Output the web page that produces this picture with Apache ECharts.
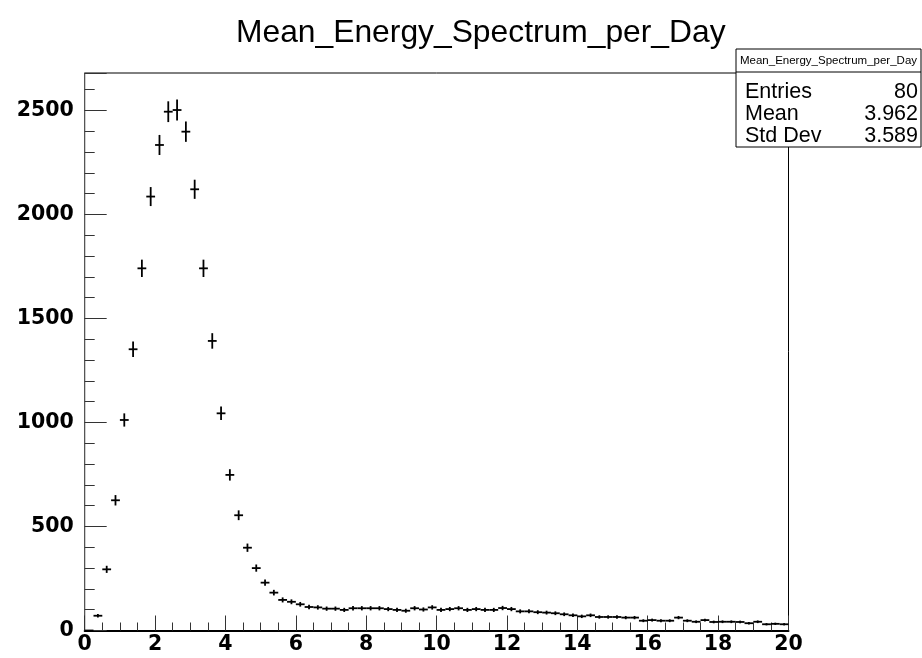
<!DOCTYPE html>
<html>
<head>
<meta charset="utf-8">
<script src="https://cdn.jsdelivr.net/npm/echarts@6/dist/echarts.min.js"></script>
<style>
  html, body { margin: 0; padding: 0; background: #fff; }
  #chart { width: 922px; height: 658px; }
</style>
</head>
<body>
<div id="chart"></div>
<script>
// histogram: 80 bins of 0.25 from 0 to 20
const binStart = 0
const binWidth = 0.25
const counts = [
  0, 71, 294, 626, 1012, 1352, 1741, 2086, 2334, 2494,
  2502, 2398, 2121, 1741, 1392, 1044, 748, 554, 398, 300,
  230, 182, 147, 138, 126, 113, 111, 105, 105, 99,
  107, 107, 107, 107, 103, 99, 95, 107, 101, 111,
  99, 103, 107, 99, 103, 99, 99, 108, 103, 92,
  92, 88, 86, 83, 78, 73, 68, 73, 65, 65,
  65, 62, 62, 47, 50, 47, 47, 62, 47, 42,
  50, 41, 42, 42, 41, 35, 42, 30, 32, 30
]
const statLabels = ['Entries', 'Mean', 'Std Dev']
const statValues = ['80', '3.962', '3.589']
const histName = 'Mean_Energy_Spectrum_per_Day'

// [center, count, error] - poisson errors like ROOT
const points = counts.map((c, i) => [binStart + binWidth * (i + 0.5), c, Math.sqrt(c)])

const chart = echarts.init(document.getElementById('chart'), null, { renderer: 'canvas' })

const tickFont = { fontFamily: 'DejaVu Sans', fontWeight: 'bold', fontSize: 20.5, color: '#000' }

function renderBar(params, api) {
  const x = api.value(0), y = api.value(1), e = api.value(2)
  const left = api.coord([x - binWidth / 2, y])
  const right = api.coord([x + binWidth / 2, y])
  const lo = api.coord([x, y - e])
  const hi = api.coord([x, y + e])
  const style = { stroke: '#000', lineWidth: 1.8 }
  return {
    type: 'group',
    children: [
      { type: 'line', shape: { x1: left[0], y1: left[1], x2: right[0], y2: right[1] }, style },
      { type: 'line', shape: { x1: lo[0], y1: lo[1], x2: hi[0], y2: hi[1] }, style }
    ]
  }
}

const boxL = 736, boxR = 921, boxT = 49, boxB = 147
const statText = []
statLabels.forEach((s, i) => {
  const y = 92 + i * 22
  statText.push({ type: 'text', x: 745, y: y, style: { text: s, font: '21.5px "Liberation Sans"', fill: '#000', textVerticalAlign: 'middle' } })
  statText.push({ type: 'text', x: 918, y: y, style: { text: statValues[i], font: '21.5px "Liberation Sans"', fill: '#000', textAlign: 'right', textVerticalAlign: 'middle' } })
})

chart.setOption({
  animation: false,
  title: {
    text: histName,
    left: 231,
    top: 12,
    textStyle: { fontFamily: 'Liberation Sans', fontWeight: 'normal', fontSize: 31.8, color: '#000' }
  },
  grid: {
    left: 84.7, right: 133.5, top: 73, bottom: 27.5,
    show: true, borderColor: '#000', borderWidth: 1, backgroundColor: 'transparent'
  },
  xAxis: {
    type: 'value',
    min: 0, max: 20, interval: 2,
    axisLine: { lineStyle: { color: '#000', width: 2 } },
    axisTick: { inside: true, length: 15, lineStyle: { color: '#333', width: 1 } },
    minorTick: { show: true, splitNumber: 4, length: 8, lineStyle: { color: '#333', width: 1 } },
    axisLabel: Object.assign({ margin: 4 }, tickFont),
    splitLine: { show: false }
  },
  yAxis: [{
    type: 'value',
    min: 0, max: 2680, interval: 500,
    axisLine: { show: true, lineStyle: { color: '#555', width: 1 } },
    axisTick: { inside: true, length: 22, lineStyle: { color: '#333', width: 1 } },
    axisLabel: Object.assign({
      margin: 11,
      formatter: v => (v % 500 === 0 ? String(v) : '')
    }, tickFont),
    splitLine: { show: false }
  }, {
    // minor ticks every 100
    type: 'value', position: 'left',
    min: 0, max: 2680, interval: 100,
    axisLine: { show: false },
    axisTick: { inside: true, length: 10, lineStyle: { color: '#333', width: 1 } },
    axisLabel: { show: false },
    splitLine: { show: false }
  }],
  series: [{
    type: 'custom',
    renderItem: renderBar,
    data: points,
    encode: { x: 0, y: 1 },
    clip: false
  }],
  graphic: [
    { type: 'rect', shape: { x: boxL, y: boxT, width: boxR - boxL, height: boxB - boxT }, style: { fill: '#fff', stroke: '#000', lineWidth: 1 }, z: 10 },
    { type: 'line', shape: { x1: boxL, y1: 72, x2: boxR, y2: 72 }, style: { stroke: '#000', lineWidth: 1 }, z: 11 },
    { type: 'text', x: (boxL + boxR) / 2, y: 61, style: { text: histName, font: '11.5px "Liberation Sans"', fill: '#000', textAlign: 'center', textVerticalAlign: 'middle' }, z: 11 }
  ].concat(statText.map(t => Object.assign(t, { z: 11 })))
})
</script>
</body>
</html>
